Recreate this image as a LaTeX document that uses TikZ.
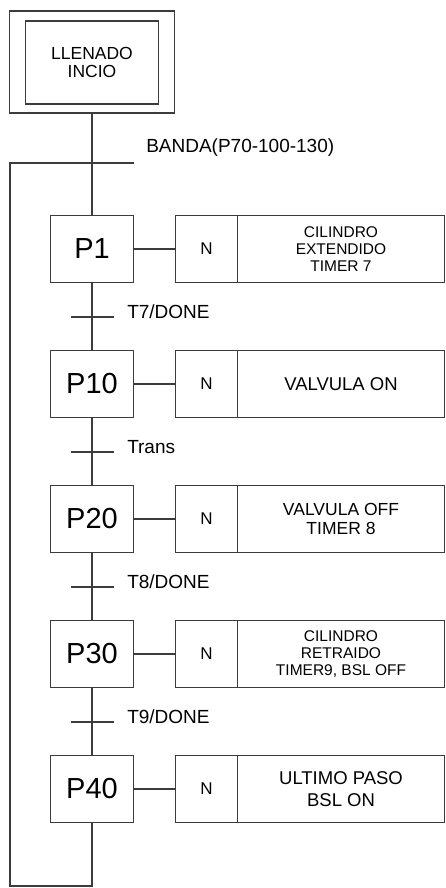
\documentclass[tikz,border=0pt]{standalone}
\usepackage{fontspec}
\setmainfont{Liberation Sans}
\definecolor{linegray}{HTML}{3C3C3C}
\usetikzlibrary{positioning}

\begin{document}
\begin{tikzpicture}[x=1pt, y=-1pt, line width=1.5pt, color=linegray,
  every node/.style={text=black},
  stepbox/.style={draw, outer sep=0pt, minimum width=83pt, minimum height=67pt, font=\fontsize{29}{30}\selectfont},
  nbox/.style={draw, outer sep=0pt, minimum width=62pt, minimum height=67pt, font=\fontsize{17}{18}\selectfont},
  actbox/.style={draw, outer sep=0pt, minimum width=207pt, minimum height=67pt, align=center, inner sep=0pt},
  trbar/.style={fill=linegray, outer sep=0pt, inner sep=0pt, minimum width=43pt, minimum height=1.5pt},
  trlabel/.style={anchor=west, inner sep=0pt, font=\fontsize{19}{20}\selectfont}]
  \useasboundingbox (0,0) rectangle (446,888);
  \node[draw, outer sep=0pt, minimum width=165pt, minimum height=102pt] (ini) at (92,62) {};
  \node[draw, outer sep=0pt, minimum width=133pt, minimum height=83pt, align=center,
    font=\fontsize{17.5}{18}\selectfont] (inin) at (92,62.5) {LLENADO\\INCIO};
  \node[trbar, minimum width=83pt] (tb) at (92,163) {};
  \node[trlabel, right=12pt of tb, yshift=15pt] (tbl) {BANDA(P70-100-130)};
  \foreach \i/\nm/\lbl/\fs/\ld/\act in {
    0/p1/P1/15.5/16.7/{CILINDRO\\EXTENDIDO\\TIMER 7},
    1/p10/P10/18.5/20/{VALVULA ON},
    2/p20/P20/17.5/19/{VALVULA OFF\\TIMER 8},
    3/p30/P30/15.5/16.7/{CILINDRO\\RETRAIDO\\TIMER9, BSL OFF},
    4/p40/P40/18.5/21.5/{ULTIMO PASO\\BSL ON}} {
    \node[stepbox] (\nm) at (92,249+135*\i) {\lbl};
    \node[nbox, right=42pt of \nm] (n\nm) {N};
    \node[actbox, right=0pt of n\nm, font=\fontsize{\fs}{\ld}\selectfont] (a\nm) {\act};
    \draw (\nm) -- (n\nm);
  }
  \foreach \i/\lbl in {0/T7\slash DONE, 1/Trans, 2/T8\slash DONE, 3/T9\slash DONE} {
    \node[trbar] (t\i) at (92,317+135*\i) {};
    \node[trlabel, right=13pt of t\i, yshift=5pt] (tl\i) {\lbl};
  }
  \draw (ini) -- (p1) (p1) -- (p10) (p10) -- (p20) (p20) -- (p30) (p30) -- (p40);
  \coordinate (bot) at (92,886);
  \coordinate (loop) at (10,886);
  \draw (p40) -- (bot) -- (loop) |- (tb.west);
\end{tikzpicture}
\end{document}
